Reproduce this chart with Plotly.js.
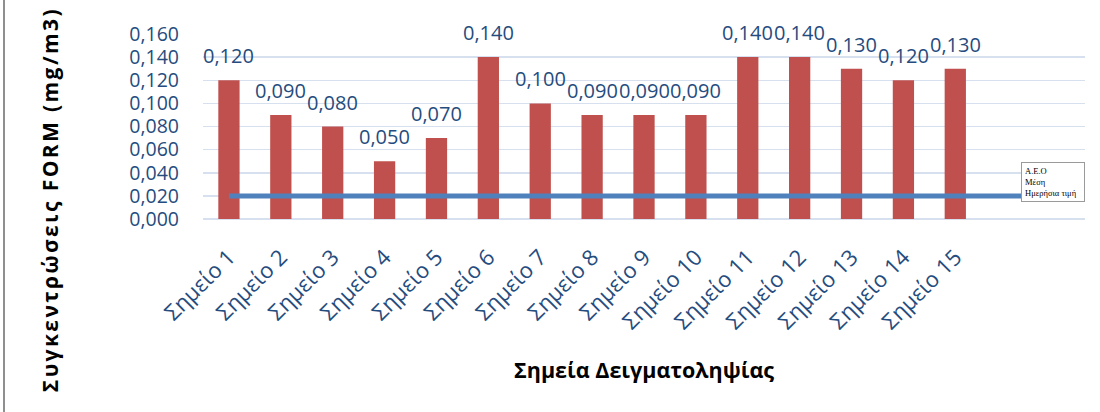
<!DOCTYPE html>
<html>
<head>
<meta charset="utf-8">
<script src="https://cdn.plot.ly/plotly-3.0.1.min.js"></script>
<style>
  html, body { margin: 0; padding: 0; background: #fff; }
  #wrap { position: relative; width: 1100px; height: 412px; }
  #chart { width: 1100px; height: 412px; }
  #edge { position: absolute; left: 3px; top: 0; width: 2px; height: 412px; background: #8f8f8f; }
  g.annotation[data-index="15"] text { letter-spacing: 2.4px; }
</style>
</head>
<body>
<div id="wrap">
  <div id="chart"></div>
  <div id="edge"></div>
</div>
<script>
// ---- data ----
const categories = ['Σημείο 1','Σημείο 2','Σημείο 3','Σημείο 4','Σημείο 5','Σημείο 6','Σημείο 7','Σημείο 8',
                    'Σημείο 9','Σημείο 10','Σημείο 11','Σημείο 12','Σημείο 13','Σημείο 14','Σημείο 15'];
const concentrations = [0.120, 0.090, 0.080, 0.050, 0.070, 0.140, 0.100, 0.090, 0.090, 0.090, 0.140, 0.140, 0.130, 0.120, 0.130];
// limit line spans the 15 points plus two empty category slots
const limitValues = [0.02, 0.02, 0.02, 0.02, 0.02, 0.02, 0.02, 0.02, 0.02, 0.02, 0.02, 0.02, 0.02, 0.02, 0.02, 0.02, 0.02];
const limitLabel = 'Α.Ε.Ο<br>Μέση<br>Ημερήσια τιμή';
const yTitle = 'Συγκεντρώσεις FORM (mg/m3)';
const xTitle = 'Σημεία Δειγματοληψίας';

const blue = '#254C7E';
const font = 'Open Sans, Noto Sans, sans-serif';

const barX = concentrations.map((_, i) => i);
const lineX = limitValues.map((_, i) => i);

const traces = [
  {
    type: 'bar', x: barX, y: concentrations,
    marker: { color: '#C0504D' }, width: 0.41,
    hoverinfo: 'y', showlegend: false
  },
  {
    type: 'scatter', mode: 'lines', x: lineX, y: limitValues,
    line: { color: '#4F81BD', width: 5 }, showlegend: false, hoverinfo: 'y'
  }
];

const annotations = concentrations.map((v, i) => ({
  x: i, y: v, xref: 'x', yref: 'y',
  text: v.toFixed(3).replace('.', ','),
  showarrow: false, yanchor: 'bottom', yshift: 9,
  font: { family: font, size: 20, color: blue }
}));

annotations.push({
  xref: 'paper', yref: 'paper', x: (50 - 203) / 882, y: (219 - 200) / 185,
  text: '<b>' + yTitle + '</b>', textangle: -90, showarrow: false,
  xanchor: 'center', yanchor: 'middle',
  font: { family: font, size: 21, color: '#000' }
});
annotations.push({
  xref: 'paper', yref: 'paper', x: (644 - 203) / 882, y: (219 - 369) / 185,
  text: '<b>' + xTitle + '</b>', showarrow: false,
  xanchor: 'center', yanchor: 'middle',
  font: { family: font, size: 21.5, color: '#000' }
});
annotations.push({
  xref: 'paper', yref: 'paper', x: 1, y: (219 - 182) / 185,
  text: limitLabel, showarrow: false, align: 'left',
  xanchor: 'right', yanchor: 'middle',
  bgcolor: '#fff', bordercolor: '#9a9a9a', borderwidth: 1, borderpad: 3,
  font: { family: 'Liberation Serif, DejaVu Serif, serif', size: 8.5, color: '#000' },
  width: 56
});

const layout = {
  width: 1100, height: 412,
  margin: { l: 203, r: 15, t: 34, b: 193 },
  paper_bgcolor: '#fff', plot_bgcolor: '#fff',
  separators: ',.',
  font: { family: font },
  xaxis: {
    range: [-0.5, 16.5], tickvals: barX, ticktext: categories,
    tickangle: -45, showgrid: false, zeroline: false, showline: false,
    ticks: '', ticklabelstandoff: 20,
    tickfont: { family: font, size: 22, color: blue }
  },
  yaxis: {
    range: [0, 0.16], dtick: 0.02, tickformat: '.3f',
    showgrid: true, gridcolor: '#D6E0EE', gridwidth: 1.5,
    zeroline: true, zerolinecolor: '#D6E0EE', zerolinewidth: 1.5,
    showline: false, ticks: '', ticklabelstandoff: 23,
    tickfont: { family: font, size: 19.5, color: blue }
  },
  annotations: annotations,
  showlegend: false
};

Plotly.newPlot('chart', traces, layout, { displayModeBar: false, staticPlot: true });
</script>
</body>
</html>
